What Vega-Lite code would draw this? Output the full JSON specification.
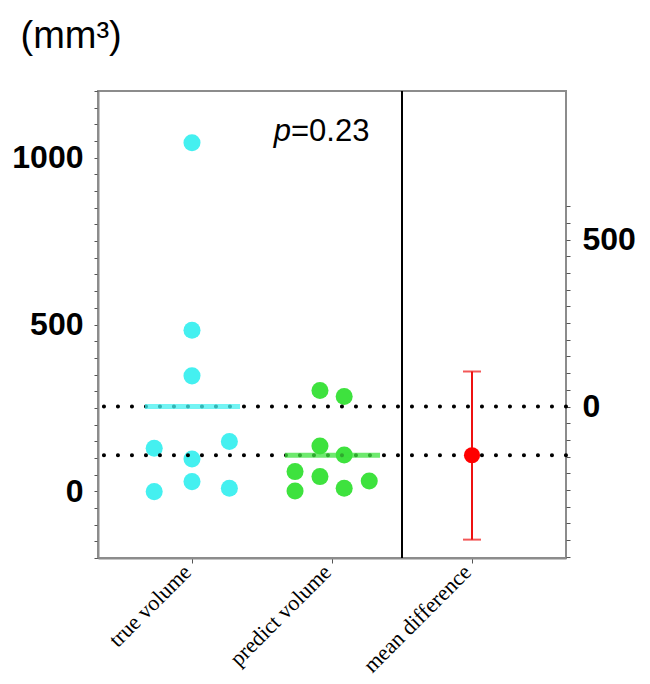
{
  "$schema": "https://vega.github.io/schema/vega-lite/v6.json",
  "width": 468,
  "height": 467,
  "autosize": {"type": "none"},
  "padding": {"left": 98, "top": 91, "right": 84, "bottom": 126},
  "background": "white",
  "config": {
    "view": {"stroke": "#8c8c8c", "strokeWidth": 2},
    "axis": {"grid": false, "domainColor": "#8c8c8c", "domainWidth": 2, "tickColor": "#555555", "labelColor": "black", "tickSize": 5, "labelOverlap": false},
    "axisX": {"labelFont": "Liberation Serif", "labelFontSize": 22, "labelAngle": -45, "labelAlign": "right", "labelBaseline": "alphabetic", "labelPadding": 10, "title": null},
    "axisY": {"labelFont": "Liberation Sans", "labelFontSize": 32, "labelFontWeight": "bold", "tickSize": 4}
  },
  "datasets": {
    "pts": [
      {"group": "true volume", "x": 1.0, "v": 1045},
      {"group": "true volume", "x": 1.0, "v": 483},
      {"group": "true volume", "x": 1.0, "v": 346},
      {"group": "true volume", "x": 0.73, "v": 129},
      {"group": "true volume", "x": 1.267, "v": 149},
      {"group": "true volume", "x": 1.0, "v": 97},
      {"group": "true volume", "x": 1.0, "v": 29},
      {"group": "true volume", "x": 0.73, "v": -1},
      {"group": "true volume", "x": 1.267, "v": 9},
      {"group": "predict volume", "x": 1.914, "v": 302},
      {"group": "predict volume", "x": 2.087, "v": 284},
      {"group": "predict volume", "x": 1.914, "v": 136},
      {"group": "predict volume", "x": 2.087, "v": 109},
      {"group": "predict volume", "x": 1.736, "v": 59},
      {"group": "predict volume", "x": 1.914, "v": 44},
      {"group": "predict volume", "x": 2.266, "v": 31},
      {"group": "predict volume", "x": 1.736, "v": 1},
      {"group": "predict volume", "x": 2.087, "v": 9}
    ],
    "means": [
      {"group": "true volume", "x": 0.664, "x2": 1.343, "v": 254.1},
      {"group": "predict volume", "x": 1.664, "x2": 2.343, "v": 108.1}
    ],
    "sep": [{"x": 2.5}],
    "ptext": [{"x": 1.707, "v": 1077, "a": "p", "b": "=0.23"}],
    "diff": [{"x": 3, "d": -146, "lo": -399, "hi": 105}]
  },
  "layer": [
    {
      "layer": [
        {
          "data": {"name": "pts"},
          "mark": {"type": "circle", "size": 290, "opacity": 1},
          "encoding": {
            "x": {"field": "x", "type": "quantitative", "scale": {"domain": [0.3286, 3.6714], "nice": false, "zero": false}, "axis": {"values": [1, 2, 3], "labelExpr": "datum.value == 1 ? 'true volume' : datum.value == 2 ? 'predict volume' : 'mean difference'"}},
            "y": {"field": "v", "type": "quantitative", "scale": {"domain": [-200, 1200], "nice": false, "zero": false}, "axis": {"orient": "left", "format": "d", "values": [-200, -150, -100, -50, 0, 50, 100, 150, 200, 250, 300, 350, 400, 450, 500, 550, 600, 650, 700, 750, 800, 850, 900, 950, 1000, 1050, 1100, 1150, 1200], "labelExpr": "datum.value % 500 === 0 ? datum.label : ''", "labelPadding": 11, "title": "(mm³)", "titleAngle": 0, "titleAlign": "left", "titleBaseline": "alphabetic", "titleX": -78, "titleY": -44, "titleFont": "Liberation Sans", "titleFontSize": 38, "titleFontWeight": "normal", "titleColor": "black"}},
            "color": {"field": "group", "type": "nominal", "scale": {"domain": ["true volume", "predict volume"], "range": ["#44f0f0", "#3ee23e"]}, "legend": null}
          }
        },
        {
          "data": {"name": "means"},
          "mark": {"type": "rule", "color": "black", "strokeWidth": 4, "strokeCap": "round", "strokeDash": [0.1, 13.9]},
          "encoding": {
            "y": {"field": "v", "type": "quantitative", "scale": {"domain": [-200, 1200], "nice": false, "zero": false}, "axis": {"orient": "left", "format": "d", "values": [-200, -150, -100, -50, 0, 50, 100, 150, 200, 250, 300, 350, 400, 450, 500, 550, 600, 650, 700, 750, 800, 850, 900, 950, 1000, 1050, 1100, 1150, 1200], "labelExpr": "datum.value % 500 === 0 ? datum.label : ''", "labelPadding": 11, "title": "(mm³)", "titleAngle": 0, "titleAlign": "left", "titleBaseline": "alphabetic", "titleX": -78, "titleY": -44, "titleFont": "Liberation Sans", "titleFontSize": 38, "titleFontWeight": "normal", "titleColor": "black"}}
          }
        },
        {
          "data": {"name": "means"},
          "mark": {"type": "rule", "strokeWidth": 5, "opacity": 0.75},
          "encoding": {
            "x": {"field": "x", "type": "quantitative", "scale": {"domain": [0.3286, 3.6714], "nice": false, "zero": false}, "axis": {"values": [1, 2, 3], "labelExpr": "datum.value == 1 ? 'true volume' : datum.value == 2 ? 'predict volume' : 'mean difference'"}},
            "x2": {"field": "x2"},
            "y": {"field": "v", "type": "quantitative", "scale": {"domain": [-200, 1200], "nice": false, "zero": false}, "axis": {"orient": "left", "format": "d", "values": [-200, -150, -100, -50, 0, 50, 100, 150, 200, 250, 300, 350, 400, 450, 500, 550, 600, 650, 700, 750, 800, 850, 900, 950, 1000, 1050, 1100, 1150, 1200], "labelExpr": "datum.value % 500 === 0 ? datum.label : ''", "labelPadding": 11, "title": "(mm³)", "titleAngle": 0, "titleAlign": "left", "titleBaseline": "alphabetic", "titleX": -78, "titleY": -44, "titleFont": "Liberation Sans", "titleFontSize": 38, "titleFontWeight": "normal", "titleColor": "black"}},
            "color": {"field": "group", "type": "nominal", "legend": null}
          }
        },
        {
          "data": {"name": "sep"},
          "mark": {"type": "rule", "color": "black", "strokeWidth": 2},
          "encoding": {
            "x": {"field": "x", "type": "quantitative", "scale": {"domain": [0.3286, 3.6714], "nice": false, "zero": false}, "axis": {"values": [1, 2, 3], "labelExpr": "datum.value == 1 ? 'true volume' : datum.value == 2 ? 'predict volume' : 'mean difference'"}}
          }
        },
        {
          "data": {"name": "ptext"},
          "mark": {"type": "text", "font": "Liberation Sans", "fontSize": 31, "fontStyle": "italic", "align": "right", "baseline": "middle", "color": "black"},
          "encoding": {
            "x": {"field": "x", "type": "quantitative", "scale": {"domain": [0.3286, 3.6714], "nice": false, "zero": false}, "axis": {"values": [1, 2, 3], "labelExpr": "datum.value == 1 ? 'true volume' : datum.value == 2 ? 'predict volume' : 'mean difference'"}},
            "y": {"field": "v", "type": "quantitative", "scale": {"domain": [-200, 1200], "nice": false, "zero": false}, "axis": {"orient": "left", "format": "d", "values": [-200, -150, -100, -50, 0, 50, 100, 150, 200, 250, 300, 350, 400, 450, 500, 550, 600, 650, 700, 750, 800, 850, 900, 950, 1000, 1050, 1100, 1150, 1200], "labelExpr": "datum.value % 500 === 0 ? datum.label : ''", "labelPadding": 11, "title": "(mm³)", "titleAngle": 0, "titleAlign": "left", "titleBaseline": "alphabetic", "titleX": -78, "titleY": -44, "titleFont": "Liberation Sans", "titleFontSize": 38, "titleFontWeight": "normal", "titleColor": "black"}},
            "text": {"field": "a"}
          }
        },
        {
          "data": {"name": "ptext"},
          "mark": {"type": "text", "font": "Liberation Sans", "fontSize": 31, "align": "left", "baseline": "middle", "color": "black"},
          "encoding": {
            "x": {"field": "x", "type": "quantitative", "scale": {"domain": [0.3286, 3.6714], "nice": false, "zero": false}, "axis": {"values": [1, 2, 3], "labelExpr": "datum.value == 1 ? 'true volume' : datum.value == 2 ? 'predict volume' : 'mean difference'"}},
            "y": {"field": "v", "type": "quantitative", "scale": {"domain": [-200, 1200], "nice": false, "zero": false}, "axis": {"orient": "left", "format": "d", "values": [-200, -150, -100, -50, 0, 50, 100, 150, 200, 250, 300, 350, 400, 450, 500, 550, 600, 650, 700, 750, 800, 850, 900, 950, 1000, 1050, 1100, 1150, 1200], "labelExpr": "datum.value % 500 === 0 ? datum.label : ''", "labelPadding": 11, "title": "(mm³)", "titleAngle": 0, "titleAlign": "left", "titleBaseline": "alphabetic", "titleX": -78, "titleY": -44, "titleFont": "Liberation Sans", "titleFontSize": 38, "titleFontWeight": "normal", "titleColor": "black"}},
            "text": {"field": "b"}
          }
        }
      ]
    },
    {
      "data": {"name": "diff"},
      "layer": [
        {
          "mark": {"type": "rule", "color": "#ee1111", "strokeWidth": 2},
          "encoding": {
            "x": {"field": "x", "type": "quantitative", "scale": {"domain": [0.3286, 3.6714], "nice": false, "zero": false}, "axis": {"values": [1, 2, 3], "labelExpr": "datum.value == 1 ? 'true volume' : datum.value == 2 ? 'predict volume' : 'mean difference'"}},
            "y": {"field": "lo", "type": "quantitative", "scale": {"domain": [-454.1, 945.9], "nice": false, "zero": false}, "axis": {"orient": "right", "title": null, "domain": false, "values": [-450, -400, -350, -300, -250, -200, -150, -100, -50, 0, 50, 100, 150, 200, 250, 300, 350, 400, 450, 500, 550, 600], "labelExpr": "datum.value % 500 === 0 ? datum.label : ''", "labelPadding": 12}},
            "y2": {"field": "hi"}
          }
        },
        {
          "mark": {"type": "tick", "orient": "horizontal", "color": "#ee1111", "size": 18, "thickness": 2},
          "encoding": {
            "x": {"field": "x", "type": "quantitative", "scale": {"domain": [0.3286, 3.6714], "nice": false, "zero": false}, "axis": {"values": [1, 2, 3], "labelExpr": "datum.value == 1 ? 'true volume' : datum.value == 2 ? 'predict volume' : 'mean difference'"}},
            "y": {"field": "lo", "type": "quantitative", "scale": {"domain": [-454.1, 945.9], "nice": false, "zero": false}, "axis": {"orient": "right", "title": null, "domain": false, "values": [-450, -400, -350, -300, -250, -200, -150, -100, -50, 0, 50, 100, 150, 200, 250, 300, 350, 400, 450, 500, 550, 600], "labelExpr": "datum.value % 500 === 0 ? datum.label : ''", "labelPadding": 12}}
          }
        },
        {
          "mark": {"type": "tick", "orient": "horizontal", "color": "#ee1111", "size": 18, "thickness": 2},
          "encoding": {
            "x": {"field": "x", "type": "quantitative", "scale": {"domain": [0.3286, 3.6714], "nice": false, "zero": false}, "axis": {"values": [1, 2, 3], "labelExpr": "datum.value == 1 ? 'true volume' : datum.value == 2 ? 'predict volume' : 'mean difference'"}},
            "y": {"field": "hi", "type": "quantitative", "scale": {"domain": [-454.1, 945.9], "nice": false, "zero": false}, "axis": {"orient": "right", "title": null, "domain": false, "values": [-450, -400, -350, -300, -250, -200, -150, -100, -50, 0, 50, 100, 150, 200, 250, 300, 350, 400, 450, 500, 550, 600], "labelExpr": "datum.value % 500 === 0 ? datum.label : ''", "labelPadding": 12}}
          }
        },
        {
          "mark": {"type": "circle", "color": "#ff0000", "size": 260, "opacity": 1},
          "encoding": {
            "x": {"field": "x", "type": "quantitative", "scale": {"domain": [0.3286, 3.6714], "nice": false, "zero": false}, "axis": {"values": [1, 2, 3], "labelExpr": "datum.value == 1 ? 'true volume' : datum.value == 2 ? 'predict volume' : 'mean difference'"}},
            "y": {"field": "d", "type": "quantitative", "scale": {"domain": [-454.1, 945.9], "nice": false, "zero": false}, "axis": {"orient": "right", "title": null, "domain": false, "values": [-450, -400, -350, -300, -250, -200, -150, -100, -50, 0, 50, 100, 150, 200, 250, 300, 350, 400, 450, 500, 550, 600], "labelExpr": "datum.value % 500 === 0 ? datum.label : ''", "labelPadding": 12}}
          }
        }
      ]
    }
  ],
  "resolve": {"scale": {"y": "independent"}, "axis": {"y": "independent"}}
}
